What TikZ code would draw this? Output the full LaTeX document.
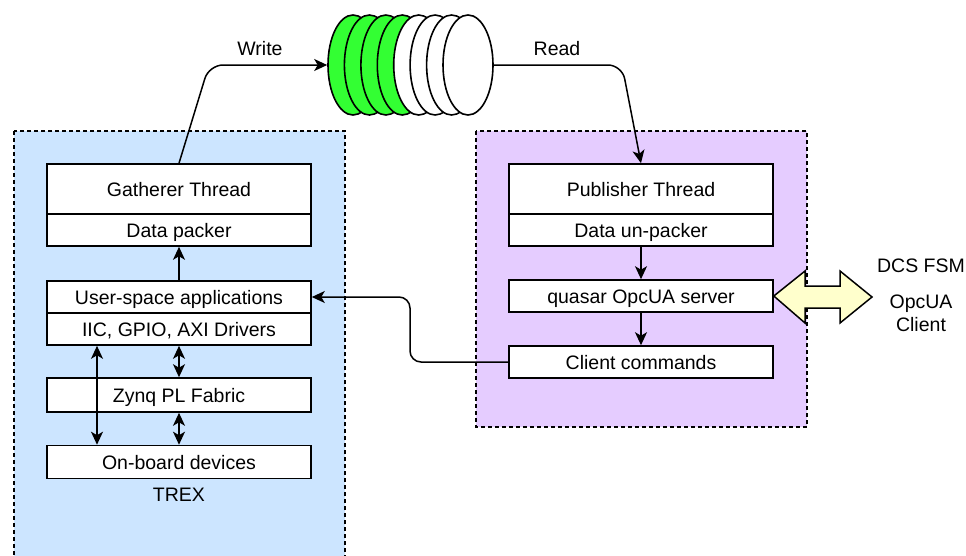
\documentclass[tikz,border=0pt]{standalone}
\usepackage{fontspec}
\setmainfont{Liberation Sans}
\usetikzlibrary{shapes.geometric,arrows.meta}
\definecolor{leftbg}{HTML}{CCE5FF}
\definecolor{rightbg}{HTML}{E5CCFF}
\definecolor{diskgreen}{HTML}{33FF33}
\definecolor{arrowfill}{HTML}{FFFFCC}
\tikzset{
  blk/.style={draw=black, fill=white, line width=1.6pt, minimum width=264pt, inner sep=0pt, text height=16pt, text depth=2pt, font=\fontsize{19.5}{23}\selectfont},
  panel/.style={draw=black, line width=1.5pt, dash pattern=on 4pt off 3pt},
  disk/.style={ellipse, draw=black, line width=1.6pt, minimum width=50pt, minimum height=100pt, inner sep=0pt},
  conn/.style={line width=1.5pt, -{Stealth[length=13pt,width=12pt,inset=3.5pt]}},
  dconn/.style={line width=1.5pt, {Stealth[length=13pt,width=12pt,inset=3.5pt]}-{Stealth[length=13pt,width=12pt,inset=3.5pt]}},
  lbl/.style={font=\fontsize{19.5}{23}\selectfont, inner sep=0pt},
}
\begin{document}
\begin{tikzpicture}[x=1pt,y=-1pt]
\useasboundingbox (0,0) rectangle (966,555);
\clip (0,0) rectangle (966,555);
% panels
\path[panel, fill=leftbg] (14,131) rectangle (345,575);
\path[panel, fill=rightbg] (476,131) rectangle (807,427);
% left boxes
\node[blk, minimum height=50pt] (gat) at (179,189) {Gatherer Thread};
\node[blk, minimum height=32pt] (pack) at (179,230) {Data packer};
\node[blk, minimum height=32pt] (usr) at (179,297) {User-space applications};
\node[blk, minimum height=32pt] (drv) at (179,329) {IIC, GPIO, AXI Drivers};
\node[blk, minimum height=34pt] (zynq) at (179,395) {Zynq PL Fabric};
\node[blk, minimum height=33pt] (onb) at (179,462) {On-board devices};
\node[lbl] (trex) at (179,495) {TREX};
% right boxes
\node[blk, minimum height=50pt] (pub) at (641,189) {Publisher Thread};
\node[blk, minimum height=32pt] (unp) at (641,230) {Data un-packer};
\node[blk, minimum height=32pt] (qua) at (641,296) {quasar OpcUA server};
\node[blk, minimum height=32pt] (cli) at (641,362) {Client commands};
% disks
\foreach \i/\xx/\col in {1/353/diskgreen,2/369.4/diskgreen,3/385.9/diskgreen,4/402.3/diskgreen,5/418.7/white,6/435.1/white,7/451.6/white,8/468/white}{
  \node[disk, fill=\col] (d\i) at (\xx,65) {};
}
% labels
\node[lbl] (wlbl) at (260,49) {Write};
\node[lbl] (rlbl) at (557,49) {Read};
\node[lbl] (dcs) at (921,266) {DCS FSM};
\node[lbl, align=center] (opc) at (921,313) {OpcUA\\Client};
% connectors
\coordinate (wc) at (209,65);
\coordinate (rc) at (622,65);
\draw[conn, rounded corners=14pt] (gat.north) -- (wc) -- (d1.west);
\draw[conn, rounded corners=14pt] (d8.east) -- (rc) -- (pub.north);
\draw[conn] (usr.north) -- (pack.south);
\draw[conn] (unp.south) -- (qua.north);
\draw[conn] (qua.south) -- (cli.north);
\coordinate (lx) at (97,0);
\draw[dconn] (drv.south -| lx) -- (onb.north -| lx);
\draw[dconn] (drv.south) -- (zynq.north);
\draw[dconn] (zynq.south) -- (onb.north);
\coordinate (mx) at (410,0);
\draw[conn, rounded corners=11pt] (cli.west) -- (cli.west -| mx) -- (usr.east -| mx) -- (usr.east);
% big double arrow
\draw[line width=1.5pt, fill=arrowfill, line join=miter]
  (qua.east) -- (805,271) -- (805,286) -- (840,286) -- (840,271) -- (872,297)
  -- (840,323) -- (840,308) -- (805,308) -- (805,323) -- cycle;
\end{tikzpicture}
\end{document}
